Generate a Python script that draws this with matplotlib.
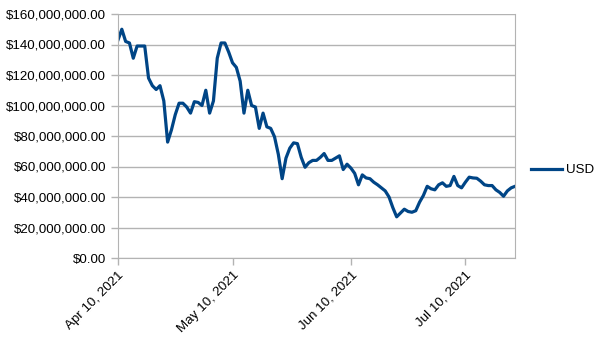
import datetime as dt

import matplotlib
matplotlib.use("Agg")
import matplotlib.pyplot as plt
import matplotlib.dates as mdates
from matplotlib.ticker import FuncFormatter, MultipleLocator

# daily USD values (millions), starting Apr 10, 2021
start = dt.date(2021, 4, 10)
usd_millions = [
    143, 150, 142, 141, 131, 139, 139, 139, 118, 113,
    110.5, 113, 103, 76, 84, 94, 101.5, 101.5, 99, 95,
    102.5, 102, 100, 110, 95, 103, 131, 141, 141, 135,
    128, 125, 116, 95, 110, 100, 99, 85, 95, 86,
    85, 79.5, 68, 52, 65.5, 72, 75.5, 75, 66, 59.5,
    62.5, 64, 64, 66, 68.5, 64, 64, 65.5, 67, 58,
    61.5, 59, 55.5, 48, 54.5, 52.5, 52, 49.7, 48, 46,
    44, 40, 33, 27, 29.5, 32, 30.5, 30, 31, 36.6,
    41, 47, 45.4, 44.7, 48, 49.3, 47, 47.5, 53.5, 47.5,
    46, 49.7, 53, 52.5, 52.3, 50.4, 48, 47.5, 47.5, 44.7,
    43, 40.5, 44, 46, 47,
]
dates = [start + dt.timedelta(days=i) for i in range(len(usd_millions))]
usd = [v * 1e6 for v in usd_millions]
tick_dates = [dt.date(2021, 4, 10), dt.date(2021, 5, 10),
              dt.date(2021, 6, 10), dt.date(2021, 7, 10)]

plt.rcParams['font.family'] = ['Liberation Sans', 'DejaVu Sans']
grid_c = '#b3b3b3'

fig = plt.figure(figsize=(6.05, 3.4), dpi=100)
ax = fig.add_axes([118 / 605, 82 / 340, 397 / 605, 244 / 340])

ax.plot(dates, usd, color='#004586', lw=2.3, label='USD', solid_joinstyle='round')

ax.set_xlim(dates[0], dates[-1])
ax.set_ylim(0, 160e6)
ax.yaxis.set_major_locator(MultipleLocator(20e6))
ax.yaxis.set_major_formatter(FuncFormatter(lambda v, p: '${:,.2f}'.format(v)))
ax.set_xticks(tick_dates)
ax.xaxis.set_major_formatter(mdates.DateFormatter('%b %d, %Y'))
for lab in ax.get_xticklabels():
    lab.set_rotation(45)
    lab.set_ha('right')
    lab.set_rotation_mode('anchor')

ax.grid(axis='y', color=grid_c, lw=1)
ax.set_axisbelow(True)
for side in ['left', 'bottom', 'right']:
    ax.spines[side].set_color(grid_c)
ax.spines['top'].set_visible(False)
ax.tick_params(colors=grid_c, labelcolor='black', labelsize=9.6, length=5, width=1)
ax.tick_params(axis='x', pad=3)

ax.legend(loc='center left', bbox_to_anchor=(531 / 605, 170 / 340),
          bbox_transform=fig.transFigure, frameon=False, fontsize=9.6,
          handlelength=2.3, handletextpad=0.3, borderpad=0, borderaxespad=0)

fig.savefig('out.png', dpi=100)
